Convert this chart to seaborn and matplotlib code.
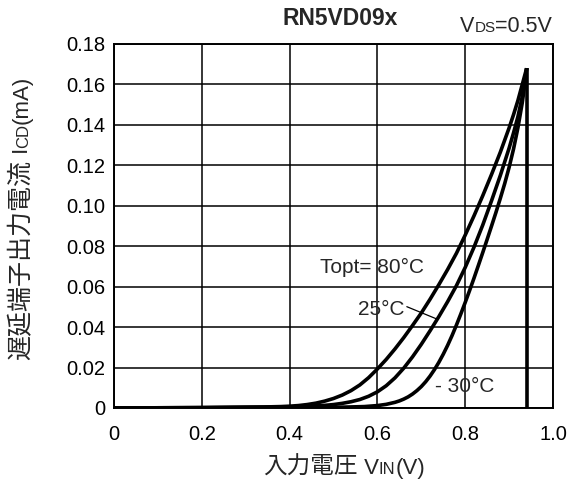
import matplotlib
matplotlib.use("Agg")
import matplotlib.pyplot as plt
import seaborn as sns
import pandas as pd

# Input voltage VIN (V) vs delay-pin output current ICD (mA), VDS = 0.5 V
vin_80 = [0.0, 0.20, 0.34, 0.38, 0.40, 0.42, 0.44, 0.46, 0.48, 0.50, 0.52, 0.54, 0.56, 0.58, 0.60,
          0.62, 0.64, 0.66, 0.68, 0.70, 0.72, 0.74, 0.76, 0.78, 0.80, 0.82, 0.84, 0.86, 0.88,
          0.90, 0.91, 0.92, 0.93, 0.94]
icd_80 = [0.0, 0.0002, 0.0005, 0.0007, 0.0009, 0.0012, 0.0017, 0.0024, 0.0034, 0.0047, 0.0064, 0.0086, 0.0114, 0.0150, 0.0193,
          0.0240, 0.0292, 0.0348, 0.0408, 0.0470, 0.0538, 0.0610, 0.0685, 0.0765, 0.0855, 0.0950, 0.1050, 0.1155, 0.1265,
          0.1385, 0.1450, 0.1520, 0.1600, 0.168]

vin_25 = [0.0, 0.20, 0.40, 0.44, 0.48, 0.50, 0.52, 0.54, 0.56, 0.58, 0.60,
          0.62, 0.64, 0.66, 0.68, 0.70, 0.72, 0.74, 0.76, 0.78, 0.80, 0.82, 0.84, 0.86, 0.88,
          0.90, 0.91, 0.92, 0.93, 0.94]
icd_25 = [0.0, 0.0002, 0.0005, 0.0008, 0.0013, 0.0017, 0.0023, 0.0031, 0.0042, 0.0058, 0.0080,
          0.0110, 0.0149, 0.0197, 0.0253, 0.0315, 0.0382, 0.0452, 0.0526, 0.0605, 0.0695, 0.0795, 0.0905, 0.1025, 0.1150,
          0.1285, 0.1360, 0.1440, 0.1540, 0.168]

vin_m30 = [0.0, 0.20, 0.50, 0.57, 0.60, 0.62, 0.64, 0.65, 0.66, 0.67, 0.68, 0.69, 0.70, 0.71, 0.72, 0.73,
           0.74, 0.75, 0.76, 0.77, 0.78, 0.79, 0.80, 0.81, 0.82, 0.83, 0.84, 0.85, 0.86, 0.87, 0.88,
           0.89, 0.90, 0.91, 0.92, 0.93, 0.935, 0.94]
icd_m30 = [0.0, 0.0001, 0.0003, 0.0007, 0.0012, 0.0018, 0.0028, 0.0035, 0.0044, 0.0055, 0.0069, 0.0086, 0.0106, 0.0130, 0.0158, 0.0190,
           0.0226, 0.0266, 0.0310, 0.0358, 0.0410, 0.0465, 0.0522, 0.0581, 0.0642, 0.0705, 0.0769, 0.0834, 0.0900, 0.0967, 0.1037,
           0.1110, 0.1190, 0.1280, 0.1385, 0.1510, 0.1590, 0.168]

# Vertical drop at the end of the sweep
drop_vin = [0.94, 0.94]
drop_icd = [0.0, 0.168]

x_ticks = [0.0, 0.2, 0.4, 0.6, 0.8, 1.0]
x_tick_labels = ["0", "0.2", "0.4", "0.6", "0.8", "1.0"]
y_ticks = [0.0, 0.02, 0.04, 0.06, 0.08, 0.10, 0.12, 0.14, 0.16, 0.18]
y_tick_labels = ["0", "0.02", "0.04", "0.06", "0.08", "0.10", "0.12", "0.14", "0.16", "0.18"]

sns.set_theme(style="white")
plt.rcParams["font.family"] = ["Liberation Sans", "Noto Sans CJK JP", "DejaVu Sans"]

df = pd.concat([
    pd.DataFrame({"vin": vin_80, "icd": icd_80, "temp": "80"}),
    pd.DataFrame({"vin": vin_25, "icd": icd_25, "temp": "25"}),
    pd.DataFrame({"vin": vin_m30, "icd": icd_m30, "temp": "-30"}),
    pd.DataFrame({"vin": drop_vin, "icd": drop_icd, "temp": "drop"}),
], ignore_index=True)

fig = plt.figure(figsize=(5.72, 4.86), dpi=100)
ax = fig.add_axes([0.1993, 0.1605, 0.7675, 0.749])

sns.lineplot(data=df, x="vin", y="icd", units="temp", estimator=None, sort=False,
             color="black", linewidth=2.6, ax=ax, legend=False, zorder=3,
             solid_joinstyle="round", solid_capstyle="butt")

ax.set_xlim(0, 1.0)
ax.set_ylim(0, 0.18)
ax.set_xticks(x_ticks)
ax.set_xticklabels(x_tick_labels)
ax.set_yticks(y_ticks)
ax.set_yticklabels(y_tick_labels)
ax.tick_params(axis="both", length=0, labelsize=14.5, colors="black")
ax.tick_params(axis="x", pad=12)
ax.tick_params(axis="y", pad=6)
ax.grid(True, color="black", linewidth=1.1)
for s in ax.spines.values():
    s.set_color("black")
    s.set_linewidth(1.4)
ax.set_xlabel("")
ax.set_ylabel("")

fs = 15
# Curve labels
ax.text(0.469, 0.0667, "Topt= 80°C", fontsize=fs, ha="left", va="baseline")
ax.text(0.5565, 0.046, "25°C", fontsize=fs, ha="left", va="baseline")
ax.plot([0.667, 0.7365], [0.0501, 0.0439], color="black", linewidth=0.9)
ax.text(0.731, 0.0081, "- 30°C", fontsize=fs, ha="left", va="baseline")

# Title
fig.text(0.594, 0.9486, "RN5VD09x", fontsize=16.5, fontweight="bold", ha="center", va="baseline")

renderer = fig.canvas.get_renderer()


def run(x, y, pieces, rotation=0):
    """Lay out text pieces of different sizes along one shared baseline."""
    for txt, size in pieces:
        t = fig.text(x, y, txt, fontsize=size, rotation=rotation, rotation_mode="anchor",
                     ha="left", va="baseline")
        bb = t.get_window_extent(renderer)
        if rotation == 0:
            x += bb.width / fig.bbox.width
        else:
            y += bb.height / fig.bbox.height


# Drain-source voltage condition
run(0.804, 0.935, [("V", 15.5), ("DS", 11), ("=0.5V", 15.5)])

# X axis label
run(0.460, 0.0247, [("入力電圧", 17), (" V", 16), ("IN", 12), ("(V)", 16)])

# Y axis label
run(0.049, 0.259, [("遅延端子出力電流", 18), (" I", 16), ("CD", 12), ("(mA)", 16)], rotation=90)

fig.savefig("out.png", dpi=100)
